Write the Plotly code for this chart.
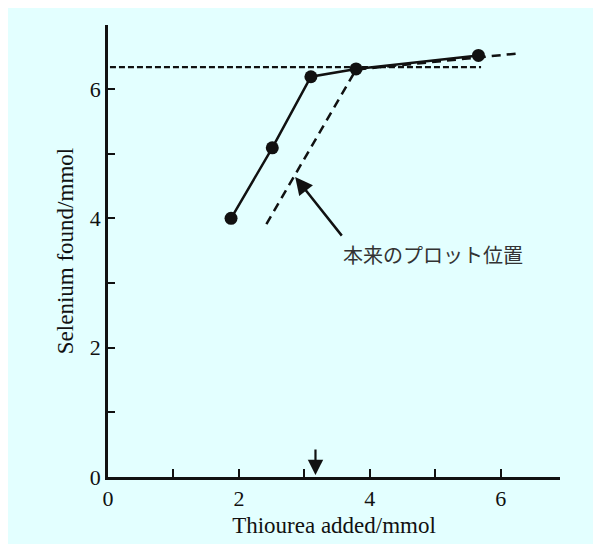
import plotly.graph_objects as go

# ---- data ----
thiourea_added = [1.88, 2.51, 3.10, 3.79, 5.66]
selenium_found = [4.00, 5.09, 6.19, 6.31, 6.52]

plateau_x = [0.03, 5.70]
plateau_y = [6.34, 6.34]

original_x = [2.42, 3.79, 6.27]
original_y = [3.91, 6.30, 6.55]

x_tick_vals = [0, 1, 2, 3, 4, 5, 6]
x_tick_text = ["0", "", "2", "", "4", "", "6"]
y_tick_vals = [0, 1, 2, 3, 4, 5, 6]
y_tick_text = ["0", "", "2", "", "4", "", "6"]

equivalence_x = 3.17
label_text = "本来のプロット位置"

BG = "#E3FFFF"
INK = "#111111"
SERIF = "Liberation Serif"

fig = go.Figure()

fig.add_trace(go.Scatter(
    x=plateau_x, y=plateau_y, mode="lines",
    line=dict(color=INK, width=2.2, dash="6px,3px"),
    hoverinfo="skip", showlegend=False))

fig.add_trace(go.Scatter(
    x=original_x, y=original_y, mode="lines",
    line=dict(color=INK, width=2.5, dash="9px,6px"),
    hoverinfo="skip", showlegend=False))

fig.add_trace(go.Scatter(
    x=thiourea_added, y=selenium_found, mode="lines+markers",
    line=dict(color=INK, width=2.5),
    marker=dict(color=INK, size=13),
    showlegend=False))

# arrow to the original plot position
fig.add_annotation(x=2.86, y=4.64, ax=3.59, ay=3.71,
                   xref="x", yref="y", axref="x", ayref="y",
                   text="", showarrow=True, arrowhead=2, arrowsize=1.4,
                   arrowwidth=2.5, arrowcolor=INK)
fig.add_annotation(x=4.97, y=3.44, xref="x", yref="y",
                   text=label_text, showarrow=False,
                   font=dict(family="Noto Sans CJK JP", size=20, color="#333333"))

# equivalence point arrow on x axis
fig.add_annotation(x=equivalence_x, y=0.03, ax=equivalence_x, ay=0.45,
                   xref="x", yref="y", axref="x", ayref="y",
                   text="", showarrow=True, arrowhead=2, arrowsize=1.4,
                   arrowwidth=2.2, arrowcolor=INK)

fig.update_layout(
    width=601, height=544,
    margin=dict(l=100, r=49, t=17, b=75),
    paper_bgcolor=BG, plot_bgcolor=BG,
    font=dict(family=SERIF, color=INK),
)

fig.update_xaxes(
    range=[0, 6.906], showgrid=False, zeroline=False, automargin=False,
    showline=True, linecolor=INK, linewidth=2.5,
    ticks="inside", ticklen=8, tickwidth=2.2, tickcolor=INK,
    tickvals=x_tick_vals, ticktext=x_tick_text,
    tickfont=dict(family=SERIF, size=22, color=INK),
    ticklabelstandoff=0,
    title=dict(text="Thiourea added/mmol", standoff=7,
               font=dict(family=SERIF, size=23, color=INK)),
)
fig.update_yaxes(
    range=[0, 6.99], showgrid=False, zeroline=False, automargin=False,
    showline=True, linecolor=INK, linewidth=2.5,
    ticks="inside", ticklen=7, tickwidth=2.2, tickcolor=INK,
    tickvals=y_tick_vals, ticktext=y_tick_text,
    tickfont=dict(family=SERIF, size=22, color=INK),
    ticklabelstandoff=0,
    title=dict(text="Selenium found/mmol", standoff=10,
               font=dict(family=SERIF, size=23, color=INK)),
)

fig.write_html("out.html")
